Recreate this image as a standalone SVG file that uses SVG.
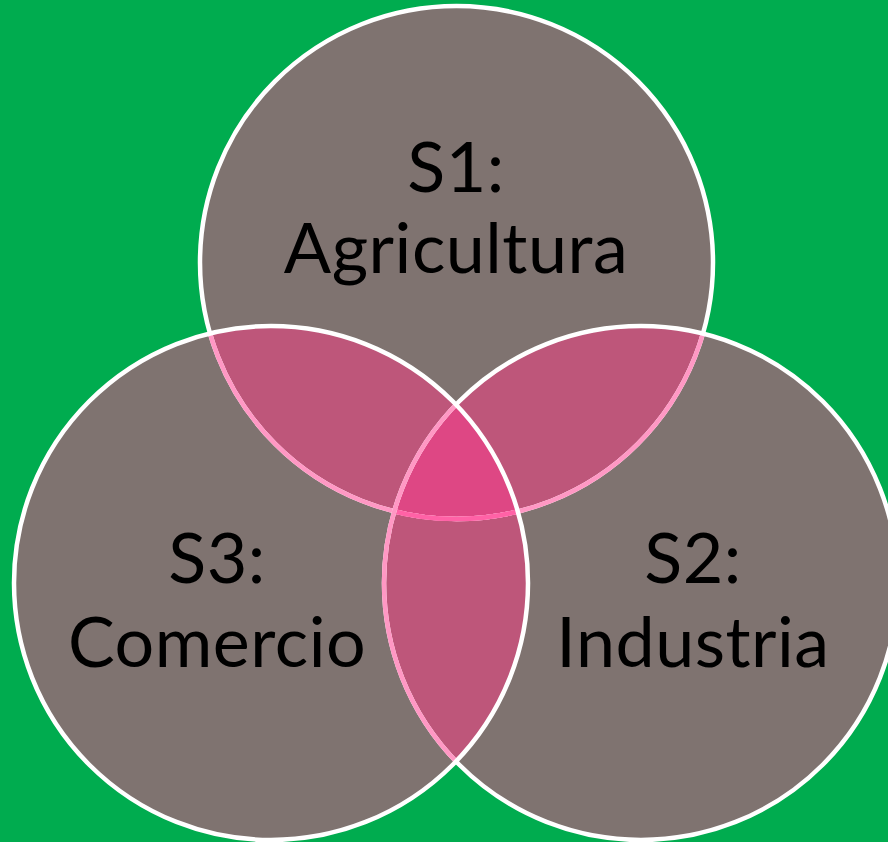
<svg xmlns="http://www.w3.org/2000/svg" width="888" height="842" viewBox="0 0 888 842">
<style>
.lbl{font-family:Lato,"Liberation Sans",sans-serif;font-size:70px;fill:#000;text-anchor:middle;letter-spacing:0.5px}
.gray{fill:#7F7370}
.pair{fill:#BE567A}
.triple{fill:#DE4784}
.ws{fill:none;stroke:#FFFFFF;stroke-width:4.5}
.ps{fill:none;stroke:#FF98C4;stroke-width:4.5}
.ps2{fill:none;stroke:#FF62A6;stroke-width:4.5}
</style>
<defs>
<circle id="cT" cx="456.5" cy="262.5" r="256.5"/>
<circle id="cL" cx="271" cy="583" r="257"/>
<circle id="cR" cx="641" cy="583" r="257"/>
<clipPath id="clipT"><use href="#cT"/></clipPath>
<clipPath id="clipL"><use href="#cL"/></clipPath>
<clipPath id="clipR"><use href="#cR"/></clipPath>
</defs>
<rect width="888" height="842" fill="#00AC4F"/>
<g id="fills">
<use href="#cT" class="gray"/>
<use href="#cR" class="gray"/>
<use href="#cL" class="gray"/>
<use href="#cT" class="pair" clip-path="url(#clipL)"/>
<use href="#cT" class="pair" clip-path="url(#clipR)"/>
<use href="#cL" class="pair" clip-path="url(#clipR)"/>
<g clip-path="url(#clipT)"><use href="#cL" class="triple" clip-path="url(#clipR)"/></g>
</g>
<g id="outlines">
<use href="#cT" class="ws"/>
<use href="#cT" class="ps" clip-path="url(#clipL)"/>
<use href="#cT" class="ps" clip-path="url(#clipR)"/>
<g clip-path="url(#clipL)"><use href="#cT" class="ps2" clip-path="url(#clipR)"/></g>
<use href="#cR" class="ws"/>
<use href="#cR" class="ps" clip-path="url(#clipL)"/>
<use href="#cL" class="ws"/>
</g>
<g id="s1">
<text class="lbl" x="456" y="192">S1:</text>
<text class="lbl" x="456" y="273">Agricultura</text>
</g>
<g id="s3">
<text class="lbl" x="217" y="583">S3:</text>
<text class="lbl" x="217" y="667">Comercio</text>
</g>
<g id="s2">
<text class="lbl" x="693" y="583">S2:</text>
<text class="lbl" x="693" y="667">Industria</text>
</g>
</svg>
